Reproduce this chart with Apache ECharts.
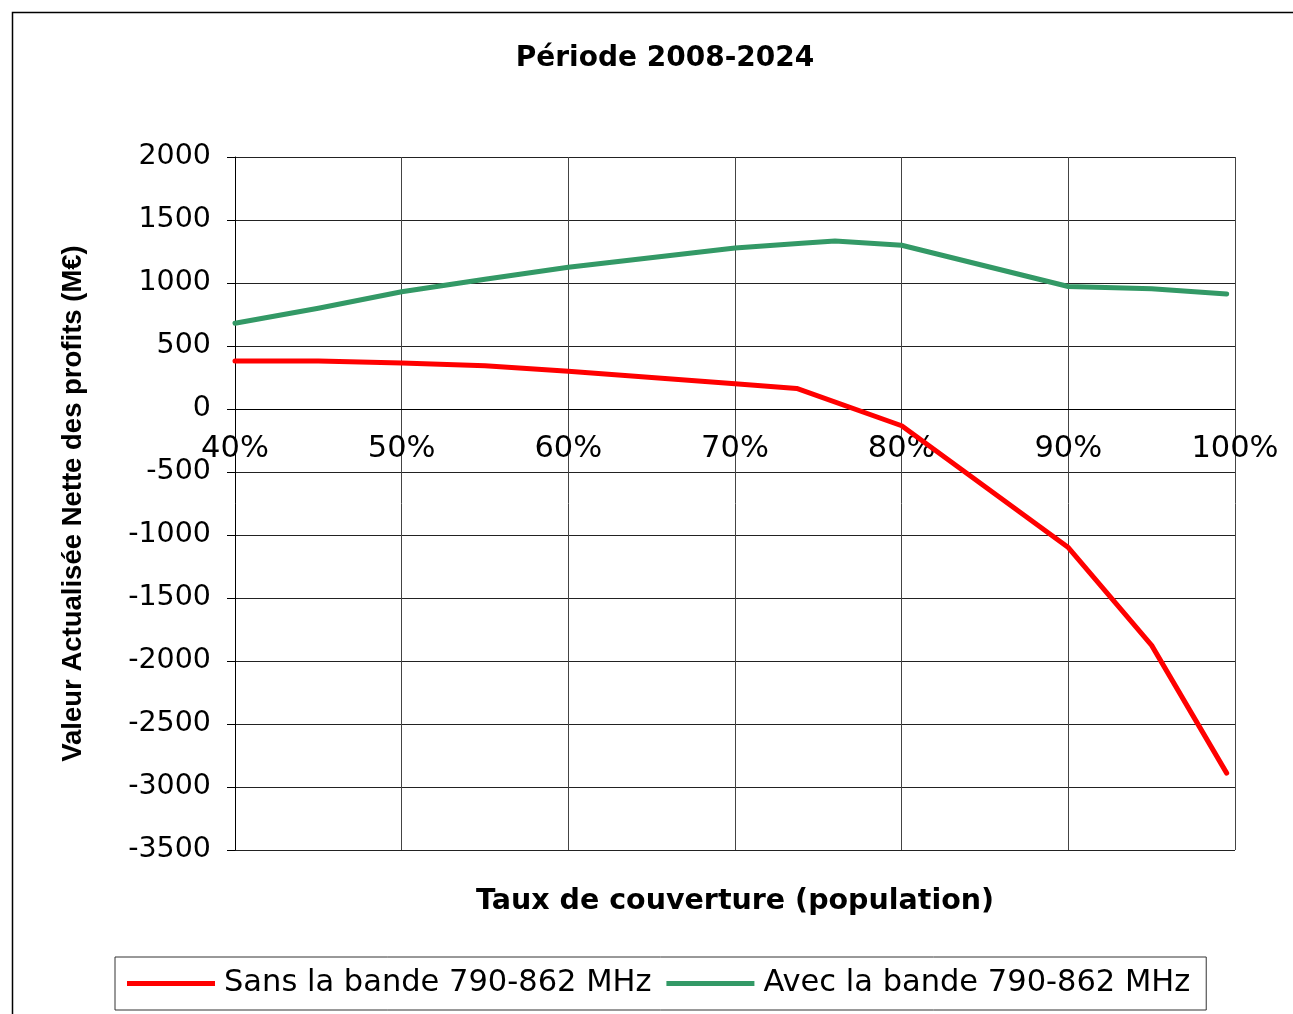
<!DOCTYPE html>
<html>
<head>
<meta charset="utf-8">
<script src="https://cdn.jsdelivr.net/npm/echarts@6/dist/echarts.min.js"></script>
<style>
html,body{margin:0;padding:0;background:#fff;}
#chart{width:1293px;height:1014px;}
</style>
</head>
<body>
<div id="chart"></div>
<script>
// Data
const titleText = 'Période 2008-2024';
const xAxisName = 'Taux de couverture (population)';
const yAxisName = 'Valeur Actualisée Nette des profits (M€)';
const seriesNames = ['Sans la bande 790-862 MHz', 'Avec la bande 790-862 MHz'];

// Red series: coverage (%) and value (M€)
const sansCoverage = [40, 45, 50, 55, 60, 70, 73.7, 80, 90, 95, 99.5];
const sansValues   = [380, 380, 365, 343, 300, 200, 163, -133, -1100, -1876, -2890];

// Green series: coverage (%) and value (M€)
const avecCoverage = [40, 45, 50, 55, 60, 70, 74, 76, 80, 90, 95, 99.5];
const avecValues   = [680, 800, 930, 1030, 1125, 1278, 1315, 1333, 1300, 972, 955, 912];

// Axis ticks
const xTicks = [40, 50, 60, 70, 80, 90, 100];
const yTicks = [-3500, -3000, -2500, -2000, -1500, -1000, -500, 0, 500, 1000, 1500, 2000];

const pairs = (xs, ys) => xs.map((x, i) => [x, ys[i]]);

const chart = echarts.init(document.getElementById('chart'), null, {renderer: 'canvas'});
chart.setOption({
  backgroundColor: '#ffffff',
  animation: false,
  graphic: [{
    type: 'rect',
    shape: {x: 12.5, y: 12.5, width: 1320, height: 1040},
    style: {fill: 'none', stroke: '#000', lineWidth: 1.5},
    silent: true
  }],
  title: {
    text: titleText,
    left: 665,
    textAlign: 'center',
    top: 45,
    padding: 0,
    textStyle: {fontFamily: 'DejaVu Sans', fontWeight: 'bold', fontSize: 28, color: '#000'}
  },
  grid: {left: 235, right: 58, top: 157, bottom: 164, containLabel: false, outerBoundsMode: 'none'},
  xAxis: {
    type: 'value',
    min: xTicks[0],
    max: xTicks[xTicks.length - 1],
    interval: 10,
    name: xAxisName,
    nameLocation: 'middle',
    nameGap: 478,
    nameTextStyle: {fontFamily: 'DejaVu Sans', fontWeight: 'bold', fontSize: 28.5, color: '#000'},
    axisLine: {show: true, onZero: false, lineStyle: {color: '#000', width: 1}},
    axisTick: {show: false},
    axisLabel: {
      formatter: '{value}%',
      margin: 25,
      fontFamily: 'DejaVu Sans',
      fontSize: 30.5,
      color: '#000'
    },
    splitLine: {show: true, lineStyle: {color: '#444', width: 1}}
  },
  yAxis: {
    type: 'value',
    min: yTicks[0],
    max: yTicks[yTicks.length - 1],
    interval: 500,
    name: yAxisName,
    nameLocation: 'middle',
    nameRotate: 90,
    nameGap: 148,
    nameTextStyle: {fontFamily: 'Liberation Sans', fontWeight: 'bold', fontSize: 27.5, color: '#000'},
    axisLine: {show: true, onZero: false, lineStyle: {color: '#000', width: 1}},
    axisTick: {show: true, length: 8, lineStyle: {color: '#000'}},
    axisLabel: {
      margin: 24,
      formatter: v => String(v),
      fontFamily: 'DejaVu Sans',
      fontSize: 28.5,
      color: '#000'
    },
    splitLine: {show: true, lineStyle: {color: '#222', width: 1}}
  },
  legend: {
    left: 115,
    top: 957,
    orient: 'horizontal',
    padding: [11, 16, 11, 12],
    itemGap: 15,
    itemWidth: 88,
    itemHeight: 30,
    icon: 'path://M0,0 L88,0 L88,5 L0,5 Z',
    borderColor: '#333',
    borderWidth: 1,
    textStyle: {fontFamily: 'DejaVu Sans', fontSize: 30.5, color: '#000', padding: [0, 0, 0, 4]},
    data: seriesNames
  },
  series: [
    {
      name: seriesNames[0],
      type: 'line',
      data: pairs(sansCoverage, sansValues),
      symbol: 'none',
      color: '#ff0000',
      lineStyle: {color: '#ff0000', width: 5, cap: 'round', join: 'round'},
      z: 3
    },
    {
      name: seriesNames[1],
      type: 'line',
      data: pairs(avecCoverage, avecValues),
      symbol: 'none',
      color: '#339966',
      lineStyle: {color: '#339966', width: 5, cap: 'round', join: 'round'},
      z: 3
    }
  ]
});

// Place the x axis (line + labels) on the value 0 of the y axis, as in the original
const yZero = chart.convertToPixel({yAxisIndex: 0}, 0);
const yMinPx = chart.convertToPixel({yAxisIndex: 0}, yTicks[0]);
chart.setOption({xAxis: {offset: yZero - yMinPx}});
</script>
</body>
</html>
